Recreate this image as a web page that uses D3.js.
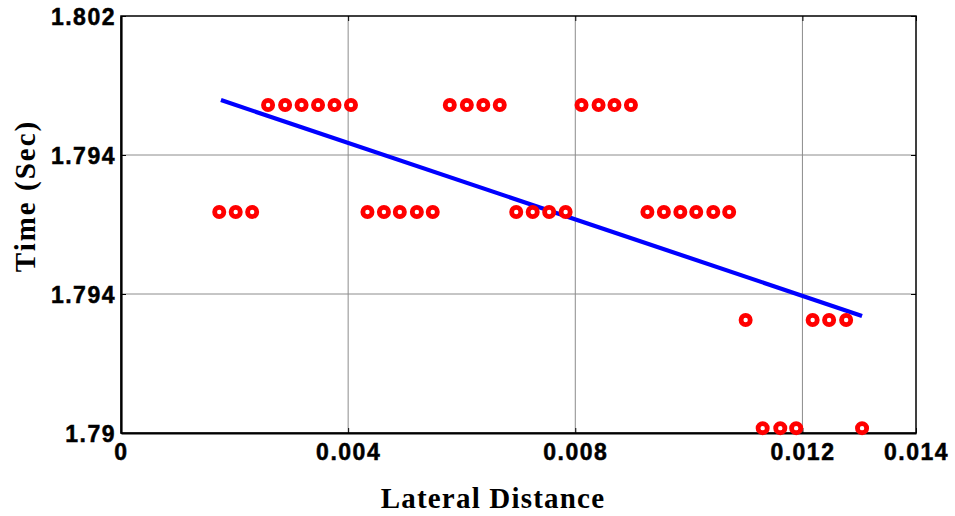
<!DOCTYPE html>
<html>
<head>
<meta charset="utf-8">
<script src="https://cdn.jsdelivr.net/npm/d3@7"></script>
<style>
  body { margin: 0; background: #fff; }
  .tick-label { font-family: "Liberation Sans", Arial, sans-serif; font-weight: bold; font-size: 23px; letter-spacing: 1.5px; fill: #000; stroke: #000; stroke-width: 0.5px; }
  .axis-title { font-family: "Liberation Serif", "Times New Roman", serif; font-weight: bold; font-size: 29px; fill: #000; }
</style>
</head>
<body>
<div id="chart"></div>
<script>
// -- DATA -- //
// lateral distance of each sample and the matching time (sec)
const lateralDistance = [
  0.00259, 0.00289, 0.00318, 0.00347, 0.00376, 0.00405,
  0.00579, 0.00609, 0.00638, 0.00667,
  0.00811, 0.00841, 0.00869, 0.00898,
  0.00173, 0.00202, 0.00231,
  0.00434, 0.00463, 0.00491, 0.00521, 0.00549,
  0.00696, 0.00725, 0.00754, 0.00783,
  0.00927, 0.00956, 0.00985, 0.01013, 0.01043, 0.01071,
  0.01100, 0.01218, 0.01247, 0.01277,
  0.01130, 0.01161, 0.01189, 0.01305
];
const timeSec = [
  1.79944, 1.79944, 1.79944, 1.79944, 1.79944, 1.79944,
  1.79944, 1.79944, 1.79944, 1.79944,
  1.79944, 1.79944, 1.79944, 1.79944,
  1.79636, 1.79636, 1.79636,
  1.79636, 1.79636, 1.79636, 1.79636, 1.79636,
  1.79636, 1.79636, 1.79636, 1.79636,
  1.79636, 1.79636, 1.79636, 1.79636, 1.79636, 1.79636,
  1.79325, 1.79325, 1.79325, 1.79325,
  1.79014, 1.79014, 1.79014, 1.79014
];

// fitted line end points
const fitX = [0.00176, 0.01305];
const fitY = [1.79958, 1.79337];

// axis ticks and the labels that are shown for them
const xTicks = [0, 0.004, 0.008, 0.012, 0.014];
const xTickLabels = ["0", "0.004", "0.008", "0.012", "0.014"];
const yTicks = [1.79, 1.794, 1.798, 1.802];
const yTickLabels = ["1.79", "1.794", "1.794", "1.802"];

// -- CHART -- //
const width = 955, height = 516;
const margin = { top: 16, right: 39, bottom: 83, left: 121 };
const innerW = width - margin.left - margin.right;
const innerH = height - margin.top - margin.bottom;

const svg = d3.select("#chart").append("svg")
  .attr("width", width)
  .attr("height", height);

const g = svg.append("g").attr("transform", `translate(${margin.left},${margin.top})`);

const x = d3.scaleLinear().domain([0, 0.014]).range([0, innerW]);
const y = d3.scaleLinear().domain([1.79, 1.802]).range([innerH, 0]);

// grid lines (interior only)
g.append("g").selectAll("line.vgrid")
  .data(xTicks.slice(1, -1))
  .join("line")
  .attr("x1", d => x(d)).attr("x2", d => x(d))
  .attr("y1", 0).attr("y2", innerH)
  .attr("stroke", "#8c8c8c").attr("stroke-width", 1);

g.append("g").selectAll("line.hgrid")
  .data(yTicks.slice(1, -1))
  .join("line")
  .attr("x1", 0).attr("x2", innerW)
  .attr("y1", d => y(d)).attr("y2", d => y(d))
  .attr("stroke", "#8c8c8c").attr("stroke-width", 1);

// frame
g.append("rect")
  .attr("width", innerW).attr("height", innerH)
  .attr("fill", "none").attr("stroke", "#000").attr("stroke-width", 1.5);

// axes with inward ticks
const xAxis = g.append("g")
  .attr("transform", `translate(0,${innerH})`)
  .call(d3.axisBottom(x).tickValues(xTicks).tickSizeInner(-5).tickSizeOuter(0)
    .tickFormat((d, i) => xTickLabels[i]));
const yAxis = g.append("g")
  .call(d3.axisLeft(y).tickValues(yTicks).tickSizeInner(-5).tickSizeOuter(0)
    .tickFormat((d, i) => yTickLabels[i]));

// ticks on top and right
g.append("g")
  .call(d3.axisTop(x).tickValues(xTicks).tickSizeInner(-5).tickSizeOuter(0).tickFormat(""))
  .select(".domain").remove();
g.append("g")
  .attr("transform", `translate(${innerW},0)`)
  .call(d3.axisRight(y).tickValues(yTicks).tickSizeInner(-5).tickSizeOuter(0).tickFormat(""))
  .select(".domain").remove();

[xAxis, yAxis].forEach(a => {
  a.select(".domain").attr("stroke-width", 2.2);
  a.selectAll("text").attr("class", "tick-label").attr("font-size", null).attr("font-family", null);
});
xAxis.selectAll("text").attr("y", 11).attr("dy", "0.71em");
yAxis.selectAll("text").attr("x", -5).attr("dy", "0.36em");

// fitted line
g.append("line")
  .attr("x1", x(fitX[0])).attr("y1", y(fitY[0]))
  .attr("x2", x(fitX[1])).attr("y2", y(fitY[1]))
  .attr("stroke", "#0000ff").attr("stroke-width", 4.2);

// sample points
g.append("g").selectAll("circle")
  .data(lateralDistance.map((d, i) => [d, timeSec[i]]))
  .join("circle")
  .attr("cx", d => x(d[0]))
  .attr("cy", d => y(d[1]))
  .attr("r", 4.6)
  .attr("fill", "#fff")
  .attr("stroke", "#ff0000")
  .attr("stroke-width", 4.8);

// axis titles
svg.append("text")
  .attr("class", "axis-title")
  .attr("x", 493).attr("y", 508)
  .attr("text-anchor", "middle")
  .style("letter-spacing", "1.2px")
  .text("Lateral Distance");

svg.append("text")
  .attr("class", "axis-title")
  .attr("transform", "translate(35,196) rotate(-90)")
  .attr("text-anchor", "middle")
  .style("letter-spacing", "2px")
  .text("Time (Sec)");
</script>
</body>
</html>
